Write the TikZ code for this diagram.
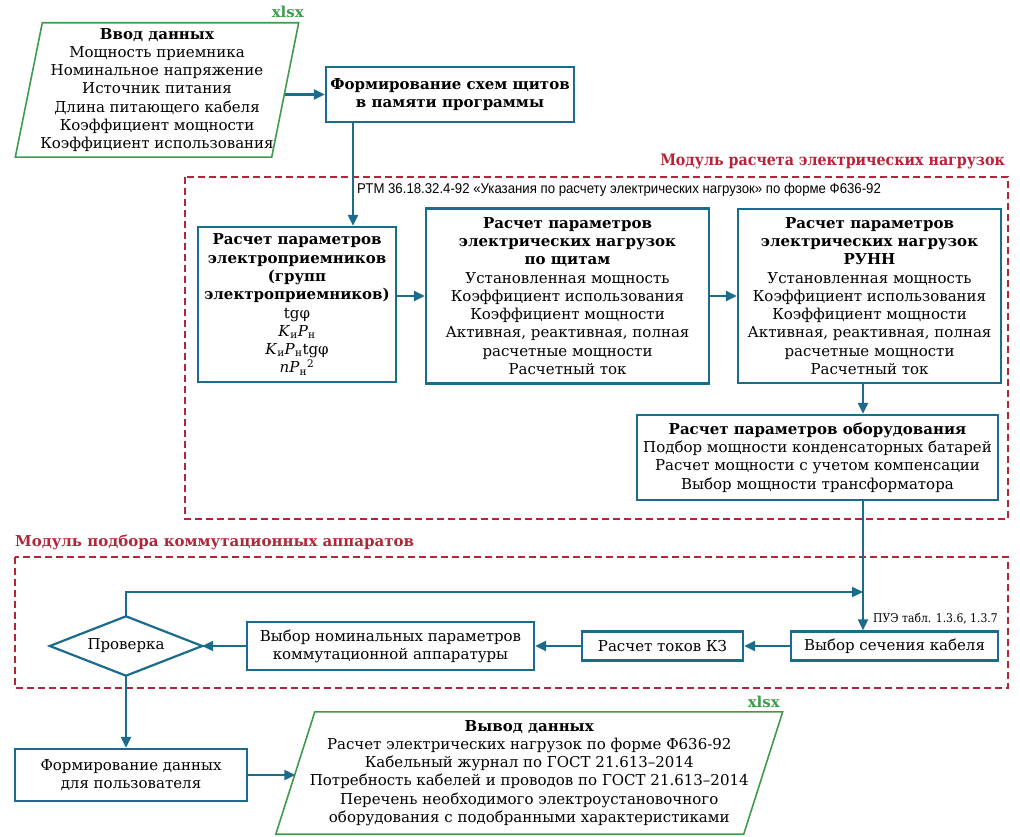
\documentclass[tikz,border=0pt]{standalone}
\usepackage{fontspec}
\setmainfont{DejaVu Serif}
\newfontfamily\narrowfont{Liberation Sans}[FakeStretch=0.93]
\newfontfamily\condserif{DejaVu Serif}[FakeStretch=0.9]
\usepackage{tikz}
\usetikzlibrary{
    arrows.meta,
    calc,
    positioning
}
\definecolor{flowblue}{HTML}{1B6B8C}
\definecolor{modulered}{HTML}{B3263A}
\definecolor{filegreen}{HTML}{3E9B4D}

\begin{document}
\begin{tikzpicture}[x=1pt, y=-1pt,
    txt/.style={align=center, inner sep=0pt, font=\fontsize{15}{18.3}\selectfont},
    block/.style={txt, draw=flowblue, line width=2.2pt},
    flow/.style={draw=flowblue, line width=2.2pt, -{Triangle[length=11pt, width=10pt]}},
    iobox/.style={draw=filegreen, line width=1.6pt},
    module/.style={draw=modulered, line width=2pt, dash pattern=on 7pt off 4pt},
    modulename/.style={text=modulered, inner sep=0pt, font=\fontsize{15}{18}\selectfont\bfseries},
    note/.style={inner sep=0pt, font=\narrowfont\fontsize{14.2}{16}\selectfont},
    refnote/.style={inner sep=0pt, font=\condserif\fontsize{12}{14}\selectfont},
    xlsx/.style={text=filegreen, inner sep=0pt, font=\fontsize{15}{16}\selectfont\bfseries}
]
    \useasboundingbox (0, 0) rectangle (1020, 837);
    \coordinate (drop) at (353, 0);
    \coordinate (feed) at (863, 0);
    \coordinate (merge) at (863, 592);

    \node[txt, minimum width=256pt, minimum height=134pt] (input) at (157, 90) {
        \textbf{Ввод данных}\\Мощность приемника\\Номинальное напряжение\\Источник питания\\
        Длина питающего кабеля\\Коэффициент мощности\\Коэффициент использования};
    \draw[iobox]
    ($(input.north west)+(13.5, 0)$) -- ($(input.north east)+(13.5, 0)$) --
    ($(input.south east)+(-13.5, 0)$) -- ($(input.south west)+(-13.5, 0)$) -- cycle;
    \node[xlsx, anchor=base east] (inxlsx) at (304, 18) {xlsx};

    \node[block, minimum width=248pt, minimum height=55pt] (scheme) at (450, 94.5)
        {\textbf{Формирование схем щитов}\\\textbf{в памяти программы}};

    \draw[module] (185, 177) rectangle (1008, 519);
    \node[modulename, font=\condserif\fontsize{15.8}{18}\selectfont\bfseries, anchor=base east] (calcname)
        at (1005, 166) {Модуль расчета электрических нагрузок};
    \node[note, anchor=west] (rtm) at (357, 190)
        {РТМ 36.18.32.4-92 «Указания по расчету электрических нагрузок» по форме Ф636-92};

    \node[block, minimum width=198pt, minimum height=155pt] (receiver) at (297, 304.5) {
        \textbf{Расчет параметров}\\\textbf{электроприемников}\\\textbf{(групп}\\\textbf{электроприемников)}\\
        tgφ\\\textit{K}\textsubscript{и}\textit{P}\textsubscript{н}\\
        \textit{K}\textsubscript{и}\textit{P}\textsubscript{н}tgφ\\\textit{nP}\textsubscript{н}\textsuperscript{2}};
    \node[block, minimum width=283pt, minimum height=175pt] (board) at (567.5, 296) {
        \textbf{Расчет параметров}\\\textbf{электрических нагрузок}\\\textbf{по щитам}\\
        Установленная мощность\\Коэффициент использования\\Коэффициент мощности\\
        Активная, реактивная, полная\\расчетные мощности\\Расчетный ток};
    \node[block, minimum width=263pt, minimum height=174pt] (runn) at (869.5, 296) {
        \textbf{Расчет параметров}\\\textbf{электрических нагрузок}\\\textbf{РУНН}\\
        Установленная мощность\\Коэффициент использования\\Коэффициент мощности\\
        Активная, реактивная, полная\\расчетные мощности\\Расчетный ток};
    \node[block, minimum width=361pt, minimum height=85pt] (equip) at (817.5, 457.5) {
        \textbf{Расчет параметров оборудования}\\Подбор мощности конденсаторных батарей\\
        Расчет мощности с учетом компенсации\\Выбор мощности трансформатора};

    \draw[module] (15, 557) rectangle (1008, 688);
    \node[modulename, anchor=base west] (switchname) at (15, 546) {Модуль подбора коммутационных аппаратов};

    \node[block, minimum width=207pt, minimum height=29pt] (cable) at (894.5, 646) {Выбор сечения кабеля};
    \node[refnote, anchor=west] (pue) at (873, 619) {ПУЭ табл. 1.3.6, 1.3.7};
    \node[block, minimum width=161pt, minimum height=29pt] (shortc) at (662.5, 646) {Расчет токов КЗ};
    \node[block, minimum width=287pt, minimum height=48pt] (apparatus) at (390.5, 646)
        {Выбор номинальных параметров\\коммутационной аппаратуры};
    \node[txt, minimum width=152pt, minimum height=59pt] (check) at (126, 646) {Проверка};
    \draw[flowblue, line width=2.2pt] (check.north) -- (check.east) -- (check.south) -- (check.west) -- cycle;

    \node[block, minimum width=232pt, minimum height=52pt] (user) at (131, 775)
        {Формирование данных\\для пользователя};
    \node[txt, minimum width=467.5pt, minimum height=122pt] (output) at (529.25, 773) {
        \textbf{Вывод данных}\\Расчет электрических нагрузок по форме Ф636-92\\
        Кабельный журнал по ГОСТ 21.613--2014\\Потребность кабелей и проводов по ГОСТ 21.613--2014\\
        Перечень необходимого электроустановочного\\оборудования с подобранными характеристиками};
    \draw[iobox]
    ($(output.north west)+(19.5, 0)$) -- ($(output.north east)+(19.5, 0)$) --
    ($(output.south east)+(-19.5, 0)$) -- ($(output.south west)+(-19.5, 0)$) -- cycle;
    \node[xlsx, anchor=base east] (outxlsx) at (780, 707) {xlsx};

    \draw[flow] (input.east |- scheme) -- (scheme);
    \draw[flow] (scheme.south -| drop) -- (receiver.north -| drop);
    \draw[flow] (receiver.east |- board) -- (board);
    \draw[flow] (board) -- (runn);
    \draw[flow] (runn.south -| feed) -- (equip.north -| feed);
    \draw[flow] (equip.south -| feed) -- (cable.north -| feed);
    \draw[flow] (check.north) |- (merge);
    \foreach \a/\b in {cable/shortc, shortc/apparatus, apparatus/check} {
        \draw[flow] (\a) -- (\b);
    }
    \draw[flow] (check.south) -- (check.south |- user.north);
    \draw[flow] (user.east) -- (user.east -| output.west);
\end{tikzpicture}
\end{document}
